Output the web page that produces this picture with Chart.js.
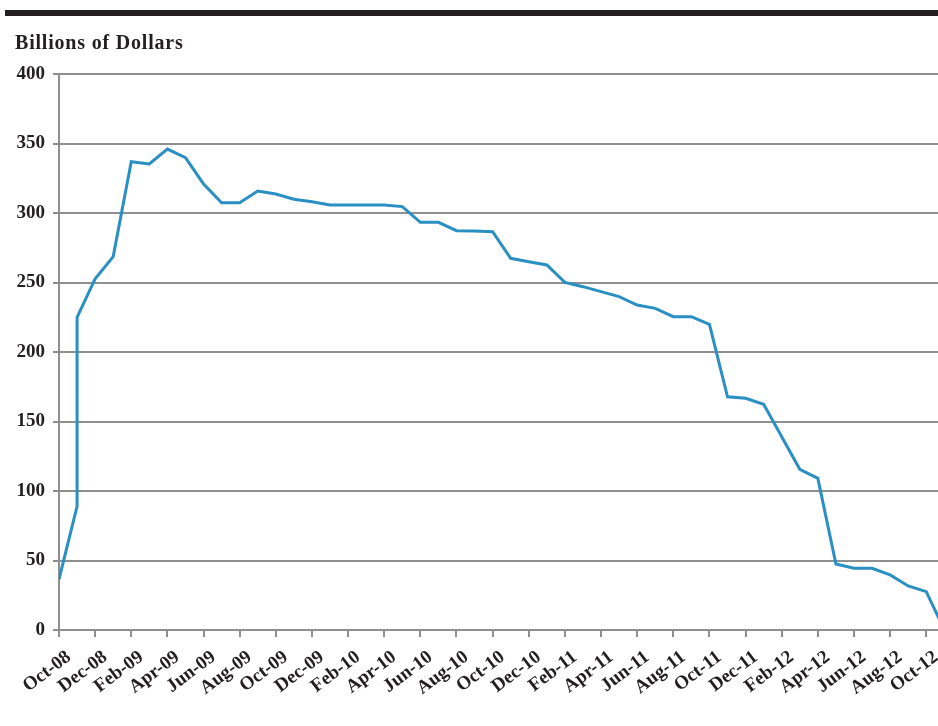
<!DOCTYPE html>
<html>
<head>
<meta charset="utf-8">
<script src="https://cdn.jsdelivr.net/npm/chart.js@4/dist/chart.umd.min.js"></script>
<style>
  body { margin: 0; background: #fff; }
  #wrap { position: relative; width: 938px; height: 726px; }
  #barraTop { position: absolute; left: 5px; right: 0; top: 10px; height: 6px; background: #231f20; }
  #grafico { position: absolute; left: 0; top: 0; }
</style>
</head>
<body>
<div id="wrap">
  <div id="barraTop"></div>
  <canvas id="grafico" width="938" height="726"></canvas>
</div>
<script>
// meses desde Oct-08 (0 = Oct-08), Nov-08 aparece dos veces
let meses = [0, 1, 1, 2, 3, 4, 5, 6, 7, 8, 9, 10, 11, 12, 13, 14, 15, 16, 17, 18, 19,
  20, 21, 22, 23, 24, 25, 26, 27, 28, 29, 30, 31, 32, 33, 34, 35, 36, 37, 38, 39,
  40, 41, 42, 43, 44, 45, 46, 47, 48, 49];
let saldos = [36.5, 89, 225, 252.7, 268.6, 336.9, 335.3, 346, 339.8, 320.9, 307.4,
  307.4, 315.8, 313.7, 309.9, 308.1, 305.8, 305.8, 305.8, 305.8, 304.6,
  293.3, 293.3, 287.3, 287, 286.6, 267.4, 265, 262.6, 250.1, 247,
  243.4, 239.8, 233.8, 231.4, 225.4, 225.4, 219.9, 167.8, 166.7, 162.4,
  139, 115.6, 109.1, 47.5, 44.4, 44.4, 39.6, 31.7, 27.6, 0];
let etiquetas = ["Oct-08", "Dec-08", "Feb-09", "Apr-09", "Jun-09", "Aug-09", "Oct-09",
  "Dec-09", "Feb-10", "Apr-10", "Jun-10", "Aug-10", "Oct-10", "Dec-10", "Feb-11",
  "Apr-11", "Jun-11", "Aug-11", "Oct-11", "Dec-11", "Feb-12", "Apr-12", "Jun-12",
  "Aug-12", "Oct-12"];
let ticksY = [0, 50, 100, 150, 200, 250, 300, 350, 400];
let tituloY = "Billions of Dollars";

let colorTexto = "#231f20";
let colorGrid = "#8f8f8f";
let fuente = "'Liberation Serif', 'Times New Roman', serif";

// titulo arriba a la izquierda
const pluginTitulo = {
  id: "tituloY",
  afterDraw(chart) {
    let ctx = chart.ctx;
    ctx.save();
    ctx.fillStyle = colorTexto;
    ctx.font = "bold 20px " + fuente;
    ctx.letterSpacing = "0.8px";
    ctx.textBaseline = "alphabetic";
    ctx.textAlign = "left";
    ctx.fillText(tituloY, 15, 49);
    ctx.restore();
  },
};

function crearGrafico() {
  let puntos = meses.map((m, i) => ({ x: m, y: saldos[i] }));
  let ctx = document.getElementById("grafico").getContext("2d");
  new Chart(ctx, {
    type: "line",
    data: {
      datasets: [
        {
          label: tituloY,
          data: puntos,
          borderColor: "#2a8fc3",
          borderWidth: 3,
          pointRadius: 0,
          tension: 0,
          fill: false,
        },
      ],
    },
    options: {
      responsive: false,
      animation: false,
      layout: { padding: { top: 74, left: 15, right: 0, bottom: 0 } },
      plugins: { legend: { display: false }, tooltip: { enabled: false } },
      scales: {
        x: {
          type: "linear",
          min: 0,
          max: 48.65,
          afterFit: (s) => {
            s.height = 96;
            s.paddingLeft = 0;
            s.paddingRight = 0;
          },
          afterBuildTicks: (s) => {
            s.ticks = etiquetas.map((e, i) => ({ value: i * 2 }));
          },
          border: { color: colorGrid, width: 2 },
          grid: { drawOnChartArea: false, drawTicks: true, tickLength: 7, color: colorGrid, lineWidth: 2 },
          ticks: {
            autoSkip: false,
            minRotation: 37,
            maxRotation: 37,
            padding: 9,
            labelOffset: 10,
            color: colorTexto,
            font: { family: fuente, size: 19, weight: "bold" },
            callback: (v) => etiquetas[v / 2],
          },
        },
        y: {
          min: 0,
          max: 400,
          afterFit: (s) => { s.width = 44; },
          afterBuildTicks: (s) => {
            s.ticks = ticksY.map((t) => ({ value: t }));
          },
          border: { color: colorGrid, width: 2 },
          grid: { color: colorGrid, lineWidth: 2, tickLength: 6 },
          ticks: {
            padding: 8,
            color: colorTexto,
            font: { family: fuente, size: 19, weight: "bold" },
          },
        },
      },
    },
    plugins: [pluginTitulo],
  });
}

crearGrafico();
</script>
</body>
</html>
